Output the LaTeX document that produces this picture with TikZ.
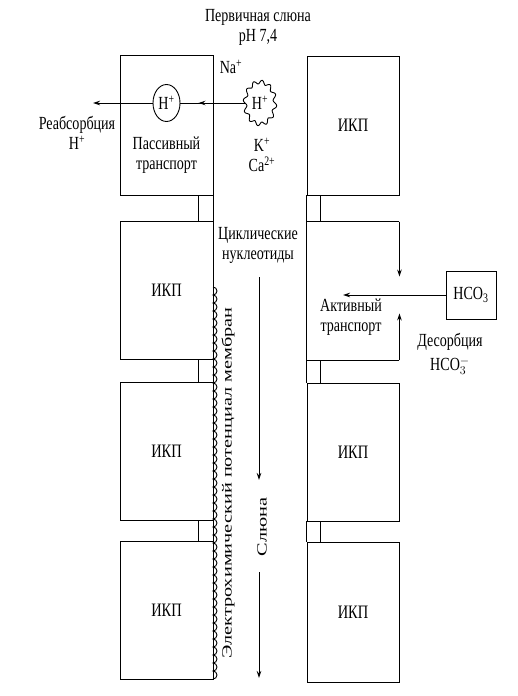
\documentclass[tikz,border=0pt]{standalone}
\usepackage{fontspec}
\setmainfont{Liberation Serif}
\newfontfamily\hfont[FakeStretch=0.76]{Liberation Serif}
\newfontfamily\vfont[FakeStretch=1.45]{Liberation Serif}
\usetikzlibrary{arrows.meta,shapes.geometric,decorations.markings}
\begin{document}
\begin{tikzpicture}[x=1pt,y=-1pt,
  ln/.style={line width=0.9pt},
  cell/.style={draw, line width=0.9pt, minimum width=93pt, minimum height=139pt, inner sep=0pt, font=\hfont\fontsize{19}{20}\selectfont},
  lbl/.style={font=\hfont\fontsize{18.5}{20}\selectfont, align=center, inner sep=0pt},
  vlbl/.style={font=\vfont\fontsize{14}{16}\selectfont, rotate=90, inner sep=0pt},
  arr/.style={ln, -{Stealth[length=7pt,width=4.5pt]}},
  midarr/.style={ln, postaction={decorate}, decoration={markings, mark=at position #1 with {\arrow{Stealth[length=7pt,width=4.5pt]}}}},
]
\useasboundingbox (0,0) rectangle (518,696);

% left column cells
\node[cell, minimum height=140pt] (L1) at (166.5,125) {};
\node[cell, minimum height=138pt] (L2) at (166.5,290) {ИКП};
\node[cell, minimum height=138pt] (L3) at (166.5,451) {ИКП};
\node[cell, minimum height=138pt] (L4) at (166.5,610) {ИКП};
% right column cells
\node[cell, minimum width=92pt] (R1) at (353,125.5) {ИКП};
\node[cell, draw=none, minimum width=92pt, minimum height=138pt] (R2) at (353,291) {};
\node[cell, minimum width=92pt, minimum height=138pt] (R3) at (353,452) {ИКП};
\node[cell, minimum width=92pt, minimum height=140pt] (R4) at (353,612) {ИКП};

% junctions left
\foreach \a/\b in {L1/L2,L2/L3,L3/L4}{
  \draw[ln] (\a.south east) -- (\b.north east);
  \draw[ln] ([xshift=-15pt]\a.south east) -- ([xshift=-15pt]\b.north east);
}
% junctions right
\foreach \a/\b in {R1/R2,R2/R3,R3/R4}{
  \draw[ln] (\a.south west) -- (\b.north west);
  \draw[ln] ([xshift=14pt]\a.south west) -- ([xshift=14pt]\b.north west);
}

% R2 outline with gap
\draw[ln] (R2.north east) -- (R2.north west) -- (R2.south west) -- (R2.south east);
\coordinate (gt) at ([yshift=-55pt]R2.north east);
\coordinate (gb) at ([yshift=47pt]R2.south east);
\draw[arr] (R2.north east) -- (gt);
\draw[arr] (R2.south east) -- (gb);

% membrane scallops
\draw[ln] (213,287) \foreach \k in {1,...,49}{ arc[start angle=90,end angle=-90,radius=4pt] };

% circles
\node[ellipse, draw, ln, minimum width=27pt, minimum height=37pt, inner sep=0pt, font=\hfont\fontsize{18.5}{20}\selectfont] (I) at (166.5,103) {H\textsuperscript{+}};
\node[ellipse, minimum width=30pt, minimum height=42pt, inner sep=0pt, font=\hfont\fontsize{18.5}{20}\selectfont] (W) at (260,103) {H\textsuperscript{+}};
\draw[ln] plot[domain=0:358, samples=180, smooth cycle] ({260+(15+1.8*sin(12*\x))*cos(\x)},{103+(21+1.8*sin(12*\x))*sin(\x)});

\coordinate (rab) at (93,103);
\draw[arr] (I.west) -- (rab);
\draw[midarr=0.72] (W.west) -- (I.east);

% HCO3 box and arrow
\node[draw, ln, minimum width=50pt, minimum height=48pt, lbl, inner sep=0pt] (B) at (471,295) {HCO\textsubscript{3}};
\coordinate (at) at (343,295);
\draw[arr] (B.west) -- (at);

% central flow arrows
\coordinate (c1) at (259,277);
\coordinate (c2) at (259,480);
\coordinate (c3) at (259,572);
\coordinate (c4) at (259,678);
\draw[arr] (c1) -- (c2);
\draw[arr] (c3) -- (c4);

% labels
\node[lbl] (t1) at (258,27) {Первичная слюна\\pH 7,4};
\node[lbl] (na) at (231,67) {Na\textsuperscript{+}};
\node[lbl] (reab) at (77,133) {Реабсорбция\\H\textsuperscript{+}};
\node[lbl] (pas) at (166.5,155) {Пассивный\\транспорт};
\node[lbl] (kca) at (262,155) {K\textsuperscript{+}\\Ca\textsuperscript{2+}};
\node[lbl] (cyc) at (258,245) {Циклические\\нуклеотиды};
\node[lbl] (akt) at (351,317) {Активный\\транспорт};
\node[lbl] (des1) at (450,342) {Десорбция};
\node[lbl] (des2) at (450,366) {HCO$_3^-$};
\node[vlbl] (ep) at (228,483) {Электрохимический потенциал мембран};
\node[vlbl] (sl) at (262,527) {Слюна};
\end{tikzpicture}
\end{document}
